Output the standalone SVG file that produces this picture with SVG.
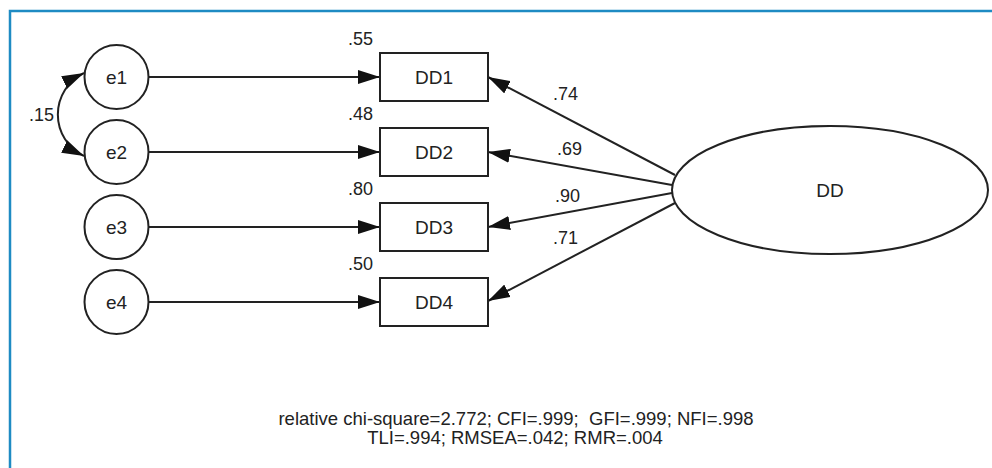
<svg xmlns="http://www.w3.org/2000/svg" width="992" height="468" viewBox="0 0 992 468">
<style>
text{font-family:"Liberation Sans",Arial,sans-serif;fill:#222}
.n{font-size:19px;text-anchor:middle;dominant-baseline:central}
.l{font-size:18px}
.s{stroke:#222;stroke-width:2;fill:#fff}
.c{stroke:#222;stroke-width:2;fill:none}
</style>
<defs>
<marker id="ah" markerUnits="userSpaceOnUse" markerWidth="22" markerHeight="14" refX="22" refY="7" orient="auto-start-reverse">
<path d="M0,0 L22,7 L0,14 z" fill="#111"/>
</marker>
</defs>
<rect width="992" height="468" fill="#fff"/>
<path d="M10,468 V11 H992" fill="none" stroke="#1E8BC3" stroke-width="2.5"/>
<g id="connectors">
<path class="c" d="M149,77 H380" marker-end="url(#ah)"/>
<path class="c" d="M149,152 H380" marker-end="url(#ah)"/>
<path class="c" d="M149,227 H380" marker-end="url(#ah)"/>
<path class="c" d="M149,302 H380" marker-end="url(#ah)"/>
<path class="c" d="M675,175 L488,77" marker-end="url(#ah)"/>
<path class="c" d="M672,185 L488,152" marker-end="url(#ah)"/>
<path class="c" d="M672,193 L488,227" marker-end="url(#ah)"/>
<path class="c" d="M675,203 L488,301" marker-end="url(#ah)"/>
<path class="c" d="M84,73 A46,46 0 0 0 84,156" marker-start="url(#ah)" marker-end="url(#ah)"/>
<text class="l" x="29" y="121">.15</text>
<text class="l" x="553" y="100">.74</text>
<text class="l" x="557" y="155">.69</text>
<text class="l" x="555" y="202">.90</text>
<text class="l" x="553" y="244">.71</text>
</g>
<g id="e1"><circle class="s" cx="116.5" cy="77" r="32"/><text class="n" x="116.5" y="77">e1</text></g>
<g id="e2"><circle class="s" cx="116.5" cy="152" r="32"/><text class="n" x="116.5" y="152">e2</text></g>
<g id="e3"><circle class="s" cx="116.5" cy="227" r="32"/><text class="n" x="116.5" y="227">e3</text></g>
<g id="e4"><circle class="s" cx="116.5" cy="302" r="32"/><text class="n" x="116.5" y="302">e4</text></g>
<g id="DD1"><rect class="s" x="380" y="53" width="108" height="48"/><text class="n" x="434" y="77">DD1</text><text class="l" x="348" y="45">.55</text></g>
<g id="DD2"><rect class="s" x="380" y="128" width="108" height="48"/><text class="n" x="434" y="152">DD2</text><text class="l" x="348" y="120">.48</text></g>
<g id="DD3"><rect class="s" x="380" y="203" width="108" height="48"/><text class="n" x="434" y="227">DD3</text><text class="l" x="348" y="195">.80</text></g>
<g id="DD4"><rect class="s" x="380" y="278" width="108" height="48"/><text class="n" x="434" y="302">DD4</text><text class="l" x="348" y="270">.50</text></g>
<g id="DD"><ellipse class="s" cx="830" cy="190" rx="158" ry="64"/><text class="n" x="830" y="190">DD</text></g>
<g id="fit">
<text font-size="18.5" text-anchor="middle" x="516" y="425" xml:space="preserve">relative chi-square=2.772; CFI=.999;  GFI=.999; NFI=.998</text>
<text font-size="18.5" text-anchor="middle" x="515" y="444">TLI=.994; RMSEA=.042; RMR=.004</text>
</g>
</svg>
